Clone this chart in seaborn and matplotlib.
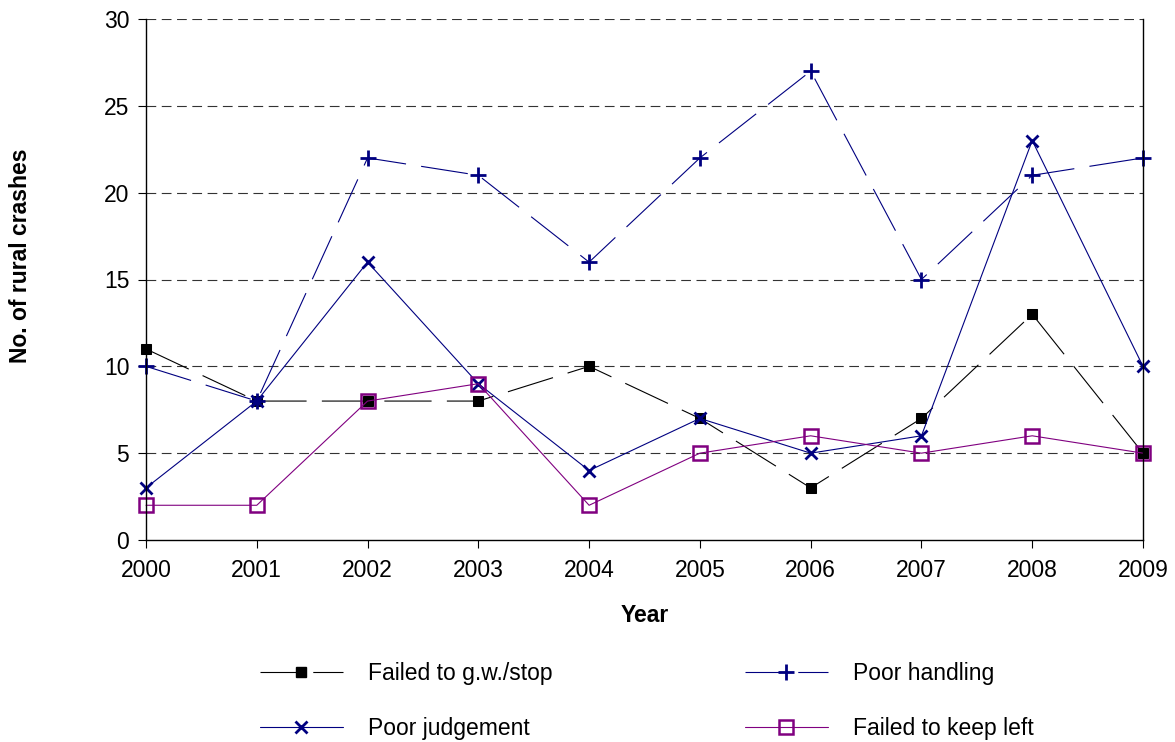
import matplotlib
matplotlib.use("Agg")
import matplotlib.pyplot as plt
from matplotlib.lines import Line2D
import seaborn as sns
import numpy as np

years = [2000, 2001, 2002, 2003, 2004, 2005, 2006, 2007, 2008, 2009]
failed_gw_stop = [11, 8, 8, 8, 10, 7, 3, 7, 13, 5]
poor_handling = [10, 8, 22, 21, 16, 22, 27, 15, 21, 22]
poor_judgement = [3, 8, 16, 9, 4, 7, 5, 6, 23, 10]
failed_keep_left = [2, 2, 8, 9, 2, 5, 6, 5, 6, 5]
labels = ["Failed to g.w./stop", "Poor judgement", "Poor handling", "Failed to keep left"]

sns.set_style("white")
plt.rcParams['font.family'] = ['Liberation Sans', 'DejaVu Sans']
plt.rcParams['lines.scale_dashes'] = False
plt.rcParams['text.color'] = 'black'
plt.rcParams['axes.labelcolor'] = 'black'
plt.rcParams['xtick.color'] = 'black'
plt.rcParams['ytick.color'] = 'black'

FS = 16.5

fig = plt.figure(figsize=(11.75, 7.42), dpi=100)
ax = fig.add_axes([146/1175, 1-540/742, (1143-146)/1175, (540-19)/742])

longdash = (0, (34, 11))
navy = "#000080"
purple = "#800080"

for yv in [5, 10, 15, 20, 25, 30]:
    ax.axhline(yv, color="#333333", lw=0.8, linestyle=(0, (7, 4)), zorder=0)

styles = [
    dict(color="black", lw=0.8, linestyle=longdash, marker="s", markersize=7.5,
         markerfacecolor="black", markeredgecolor="black"),
    dict(color=navy, lw=0.8, linestyle="-", marker="x", markersize=8, markeredgewidth=2,
         markeredgecolor=navy),
    dict(color=navy, lw=0.8, linestyle=longdash, marker="+", markersize=11,
         markeredgewidth=2, markeredgecolor=navy),
    dict(color=purple, lw=0.8, linestyle="-", marker="s", markersize=10,
         markeredgewidth=1.8, markerfacecolor="none", markeredgecolor=purple),
]
series = [failed_gw_stop, poor_judgement, poor_handling, failed_keep_left]

for vals, st in zip(series, styles):
    sns.lineplot(x=years, y=vals, ax=ax, clip_on=False, legend=False, **st)

ax.set_xlim(2000, 2009)
ax.set_ylim(0, 30)
ax.set_xticks(years)
ax.set_xticklabels([str(y) for y in years])
ax.set_yticks([0, 5, 10, 15, 20, 25, 30])
ax.tick_params(axis="both", direction="out", length=6, width=0.8, labelsize=FS,
               color="black", labelcolor="black", bottom=True, left=True)
ax.tick_params(axis="x", pad=8)
ax.tick_params(axis="y", pad=6)
for s in ["left", "bottom", "right"]:
    ax.spines[s].set_visible(True)
    ax.spines[s].set_color("black")
    ax.spines[s].set_linewidth(1.0)
ax.spines["top"].set_visible(False)

ax.set_xlabel("Year", fontsize=FS, fontweight="bold", color="black")
ax.xaxis.set_label_coords(0.5, -(604-540)/521)
ax.set_ylabel("No. of rural crashes", fontsize=FS, fontweight="bold", color="black")
ax.yaxis.set_label_coords(-(146-32)/997, (540-256)/521)

handles = [Line2D([], [], **st) for st in styles]
handles[0].set_linestyle((0, (28, 10)))
handles[2].set_linestyle((0, (28, 10)))
leg = fig.legend(handles, labels, ncol=2, loc="center", bbox_to_anchor=(0.5505, 0.055),
                 frameon=False, fontsize=FS, handlelength=3.6, handletextpad=1.1,
                 columnspacing=8.4, labelspacing=1.4)
for t in leg.get_texts():
    t.set_color("black")

fig.savefig("out.png", dpi=100)
